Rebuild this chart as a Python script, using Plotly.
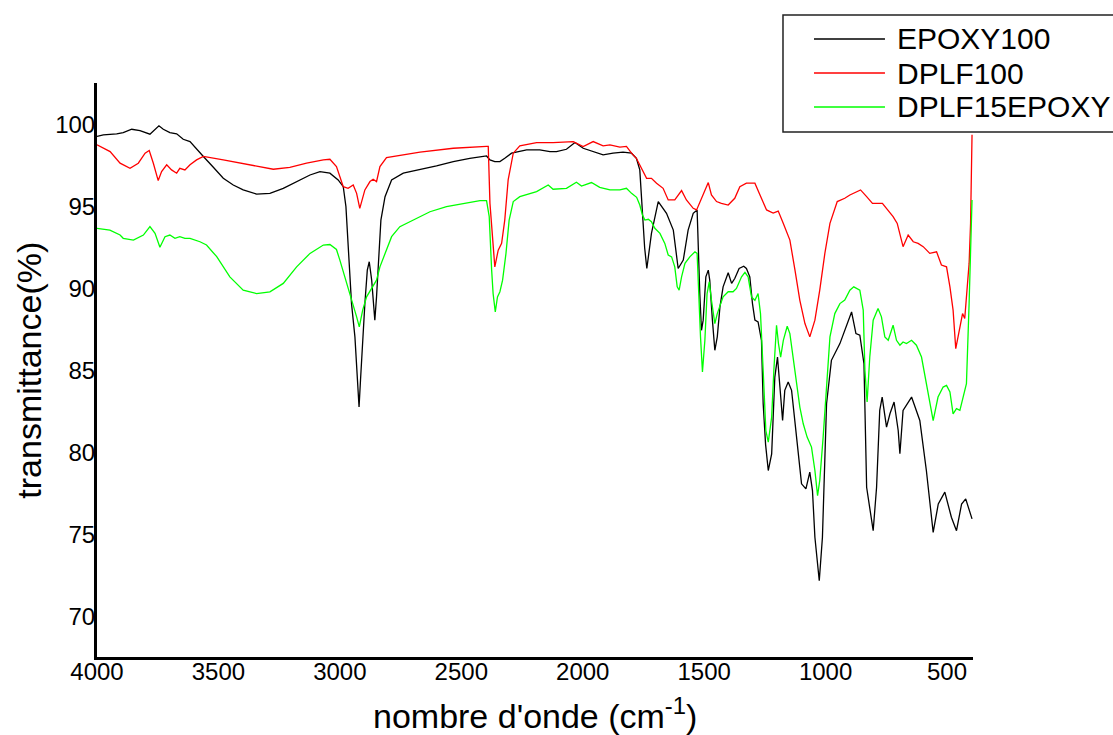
import plotly.graph_objects as go

# FTIR spectra: wavenumber (cm-1) and transmittance (%)
epoxy_wn = [4000, 3974, 3919, 3892, 3857, 3823, 3782, 3761, 3745, 3727, 3700, 3672, 3645, 3617, 3590, 3562,
            3521, 3480, 3439, 3398, 3343, 3288, 3233, 3178, 3123, 3082, 3041, 3007, 2986, 2975, 2965, 2952,
            2938, 2928, 2921, 2915, 2906, 2897, 2887, 2879, 2869, 2863, 2856, 2849, 2842, 2831, 2814, 2787,
            2739, 2670, 2602, 2533, 2465, 2396, 2382, 2362, 2341, 2321, 2293, 2231, 2177, 2135, 2108, 2067,
            2032, 1998, 1957, 1916, 1875, 1834, 1799, 1779, 1765, 1754, 1745, 1736, 1717, 1689, 1655, 1627,
            1607, 1586, 1566, 1545, 1529, 1518, 1511, 1504, 1493, 1483, 1477, 1466, 1456, 1446, 1435, 1422,
            1401, 1387, 1374, 1356, 1337, 1326, 1312, 1301, 1291, 1278, 1264, 1257, 1247, 1236, 1222, 1209,
            1198, 1188, 1177, 1168, 1154, 1140, 1120, 1099, 1081, 1065, 1054, 1044, 1026, 1013, 996, 976,
            941, 921, 893, 875, 859, 842, 831, 804, 790, 777, 767, 749, 735, 718, 701, 694, 681, 646, 612,
            585, 557, 536, 509, 482, 461, 440, 423, 397]
epoxy_t = [99.29, 99.39, 99.45, 99.53, 99.73, 99.65, 99.43, 99.69, 99.94, 99.73, 99.53, 99.45, 99.12, 98.98,
           98.51, 98.07, 97.41, 96.74, 96.33, 96.03, 95.78, 95.82, 96.13, 96.54, 96.94, 97.15, 97.05, 96.64,
           96.23, 95.01, 92.16, 89.10, 87.07, 84.42, 82.79, 84.42, 87.07, 89.10, 91.14, 91.65, 90.53, 89.31,
           88.08, 89.51, 91.34, 94.19, 95.62, 96.64, 97.05, 97.25, 97.49, 97.76, 97.96, 98.10, 97.86, 97.76,
           97.76, 97.96, 98.27, 98.47, 98.47, 98.37, 98.37, 98.51, 98.92, 98.57, 98.37, 98.17, 98.27, 98.33,
           98.27, 97.96, 97.25, 94.20, 92.50, 91.24, 93.38, 95.32, 94.60, 93.58, 91.24, 91.75, 93.58, 94.60,
           94.81, 89.71, 87.47, 88.09, 90.73, 91.14, 90.53, 88.09, 86.25, 87.07, 88.90, 90.12, 90.98, 90.33,
           90.63, 91.24, 91.38, 91.24, 90.73, 89.10, 88.09, 87.98, 86.86, 83.00, 80.50, 78.92, 79.94, 84.62,
           85.84, 84.01, 81.97, 83.81, 84.32, 83.81, 80.96, 78.11, 77.80, 78.82, 77.70, 74.85, 72.20, 74.85,
           82.99, 85.64, 86.66, 87.47, 88.59, 87.27, 87.17, 85.44, 77.90, 75.25, 77.90, 82.59, 83.40, 81.57,
           82.38, 83.10, 81.36, 79.94, 82.59, 83.40, 81.97, 78.92, 75.15, 76.88, 77.60, 76.07, 75.25, 76.88,
           77.19, 75.97]

dplf_wn = [4000, 3988, 3946, 3905, 3864, 3830, 3802, 3785, 3768, 3748, 3734, 3713, 3693, 3672, 3659, 3638,
           3617, 3590, 3562, 3480, 3411, 3343, 3274, 3206, 3137, 3068, 3041, 3014, 2986, 2966, 2945, 2931,
           2918, 2897, 2876, 2863, 2849, 2835, 2808, 2670, 2533, 2396, 2389, 2382, 2371, 2362, 2348, 2334,
           2321, 2307, 2286, 2259, 2190, 2122, 2039, 1998, 1957, 1916, 1888, 1847, 1820, 1799, 1779, 1758,
           1737, 1717, 1696, 1669, 1648, 1621, 1593, 1573, 1545, 1531, 1504, 1483, 1470, 1449, 1429, 1401,
           1374, 1353, 1326, 1291, 1271, 1243, 1216, 1195, 1174, 1147, 1126, 1106, 1085, 1065, 1044, 1024,
           1003, 982, 952, 921, 900, 856, 831, 807, 766, 749, 722, 705, 681, 660, 639, 619, 598, 571, 543,
           523, 502, 488, 475, 464, 450, 436, 427, 417, 409, 403, 397]
dplf_t = [98.78, 98.68, 98.37, 97.66, 97.35, 97.66, 98.27, 98.43, 97.66, 96.60, 97.15, 97.56, 97.25, 97.05,
          97.35, 97.25, 97.56, 97.86, 98.07, 97.86, 97.66, 97.45, 97.29, 97.41, 97.66, 97.86, 97.90, 97.45,
          96.23, 96.13, 96.33, 95.82, 94.91, 96.03, 96.54, 96.68, 96.54, 97.45, 98.00, 98.33, 98.57, 98.68,
          98.68, 95.21, 92.77, 91.34, 92.36, 92.77, 94.19, 96.64, 98.27, 98.72, 98.92, 98.92, 98.98, 98.68,
          98.98, 98.72, 98.78, 98.64, 98.68, 98.27, 97.96, 97.30, 96.74, 96.74, 96.44, 96.13, 95.42, 95.42,
          95.99, 95.42, 94.91, 94.81, 95.72, 96.48, 95.72, 95.32, 95.21, 95.11, 95.52, 96.23, 96.44, 96.44,
          95.75, 94.81, 94.62, 94.74, 93.99, 92.97, 91.14, 89.30, 87.88, 87.07, 88.09, 89.92, 92.16, 93.99,
          95.32, 95.52, 95.72, 96.03, 95.62, 95.21, 95.21, 94.91, 94.40, 93.99, 92.57, 93.28, 92.87, 92.77,
          92.57, 92.16, 92.26, 91.45, 91.34, 90.12, 88.70, 86.35, 87.47, 88.49, 88.19, 89.92, 91.55, 94.00,
          99.40]

blend_wn = [4000, 3947, 3905, 3892, 3850, 3809, 3782, 3761, 3741, 3720, 3700, 3679, 3659, 3638, 3617, 3576,
            3549, 3507, 3453, 3398, 3343, 3288, 3233, 3178, 3123, 3068, 3041, 3014, 3000, 2979, 2959, 2945,
            2931, 2920, 2906, 2890, 2869, 2849, 2835, 2815, 2787, 2753, 2698, 2629, 2561, 2492, 2423, 2396,
            2385, 2375, 2369, 2360, 2351, 2341, 2330, 2316, 2303, 2286, 2259, 2190, 2142, 2122, 2067, 2026,
            2005, 1964, 1930, 1888, 1847, 1820, 1799, 1778, 1765, 1754, 1744, 1730, 1717, 1703, 1682, 1662,
            1648, 1634, 1621, 1611, 1603, 1593, 1579, 1559, 1538, 1529, 1523, 1515, 1507, 1497, 1488, 1479,
            1470, 1456, 1446, 1435, 1422, 1401, 1381, 1367, 1346, 1332, 1319, 1305, 1291, 1278, 1268, 1257,
            1246, 1236, 1222, 1213, 1202, 1194, 1185, 1174, 1158, 1147, 1133, 1120, 1106, 1092, 1076, 1058,
            1044, 1033, 1024, 1010, 996, 982, 962, 941, 921, 900, 884, 859, 845, 838, 829, 818, 804, 784,
            770, 756, 742, 722, 708, 694, 681, 667, 646, 626, 605, 585, 571, 557, 537, 516, 502, 488, 475,
            461, 447, 434, 420, 409, 397]
blend_t = [93.69, 93.58, 93.28, 93.08, 92.97, 93.28, 93.79, 93.38, 92.53, 93.18, 93.28, 93.08, 93.18, 93.08,
           93.08, 92.87, 92.67, 91.96, 90.73, 89.92, 89.71, 89.82, 90.33, 91.34, 92.16, 92.67, 92.70, 92.40,
           91.75, 90.73, 89.71, 89.00, 88.29, 87.68, 88.70, 89.51, 90.02, 90.53, 91.34, 92.16, 93.18, 93.79,
           94.19, 94.70, 95.01, 95.21, 95.38, 95.38, 94.40, 91.14, 89.71, 88.59, 89.51, 89.82, 90.53, 92.16,
           94.19, 95.32, 95.62, 95.93, 96.33, 96.07, 96.13, 96.50, 96.27, 96.48, 96.19, 96.03, 96.03, 96.13,
           95.82, 95.58, 95.11, 94.50, 94.19, 94.24, 94.09, 93.69, 93.38, 92.77, 92.06, 91.95, 91.34, 90.12,
           89.92, 90.73, 91.55, 91.95, 92.26, 92.16, 89.71, 87.07, 84.93, 86.86, 89.71, 90.43, 89.31, 87.88,
           88.49, 89.00, 89.51, 89.82, 89.82, 90.02, 90.73, 91.00, 90.73, 89.51, 89.30, 89.71, 88.49, 85.03,
           81.36, 80.65, 82.18, 85.03, 87.78, 86.66, 85.84, 86.86, 87.72, 87.27, 85.84, 84.22, 82.79, 81.77,
           80.96, 80.35, 78.92, 77.39, 78.31, 80.96, 84.01, 87.07, 88.49, 89.10, 89.31, 89.92, 90.12, 89.92,
           88.70, 85.03, 83.10, 85.84, 88.09, 88.80, 88.29, 87.07, 86.86, 87.78, 86.86, 86.56, 86.76, 86.66,
           86.86, 86.56, 85.84, 84.22, 83.00, 81.97, 83.40, 84.01, 84.11, 83.71, 82.38, 82.69, 82.59, 83.40,
           84.22, 89.10, 95.42]

x_ticks = [4000, 3500, 3000, 2500, 2000, 1500, 1000, 500]
y_ticks = [70, 75, 80, 85, 90, 95, 100]

series_names = ["EPOXY100", "DPLF100", "DPLF15EPOXY"]
series_colors = ["#000000", "#ff0000", "#00ff00"]
series_x = [epoxy_wn, dplf_wn, blend_wn]
series_y = [epoxy_t, dplf_t, blend_t]

FONT = "Liberation Sans, Arial, sans-serif"

fig = go.Figure()
for name, wn, t, color in zip(series_names, series_x, series_y, series_colors):
    fig.add_trace(go.Scatter(x=wn, y=t, mode="lines", name=name, showlegend=False,
                             line=dict(color=color, width=1.3)))

axis_common = dict(showgrid=False, zeroline=False, ticks="", showline=True,
                   linecolor="black", linewidth=3, mirror=False,
                   tickfont=dict(family=FONT, size=24, color="black"))

fig.update_xaxes(range=[4000, 393], tickvals=x_ticks, ticklabelstandoff=-9, **axis_common)
fig.update_yaxes(range=[67.55, 102.55], tickvals=y_ticks, ticklabelstandoff=-6, **axis_common)

# Boxed key in the upper right corner, partly running past the page edge
shapes = [dict(type="rect", xref="paper", yref="paper",
               x0=0.7831, x1=1.18, y0=0.9146, y1=1.1185,
               line=dict(color="#222222", width=1.5), fillcolor="white", layer="above")]
annotations = []
row_y = [1.0767, 1.0174, 0.9582]
for name, color, yy in zip(series_names, series_colors, row_y):
    shapes.append(dict(type="line", xref="paper", yref="paper",
                       x0=0.8185, x1=0.8995, y0=yy, y1=yy,
                       line=dict(color=color, width=1.5), layer="above"))
    annotations.append(dict(text=name, xref="paper", yref="paper", x=0.911, y=yy,
                            xanchor="left", yanchor="middle", showarrow=False,
                            font=dict(family=FONT, size=30, color="black")))

annotations += [
    dict(text="nombre d'onde (cm<sup>-1</sup>)", xref="paper", yref="paper",
         x=0.5, y=-0.099, xanchor="center", yanchor="middle", showarrow=False,
         font=dict(family=FONT, size=34, color="black")),
    dict(text="transmittance(%)", xref="paper", yref="paper",
         x=-0.078, y=0.5, xanchor="center", yanchor="middle", showarrow=False,
         textangle=-90, font=dict(family=FONT, size=34, color="black")),
]

fig.update_layout(
    width=1113, height=735,
    margin=dict(l=97, r=140, t=83, b=78, autoexpand=False),
    paper_bgcolor="white", plot_bgcolor="white",
    font=dict(family=FONT, color="black"),
    shapes=shapes,
    annotations=annotations,
)

fig.write_html("out.html")
